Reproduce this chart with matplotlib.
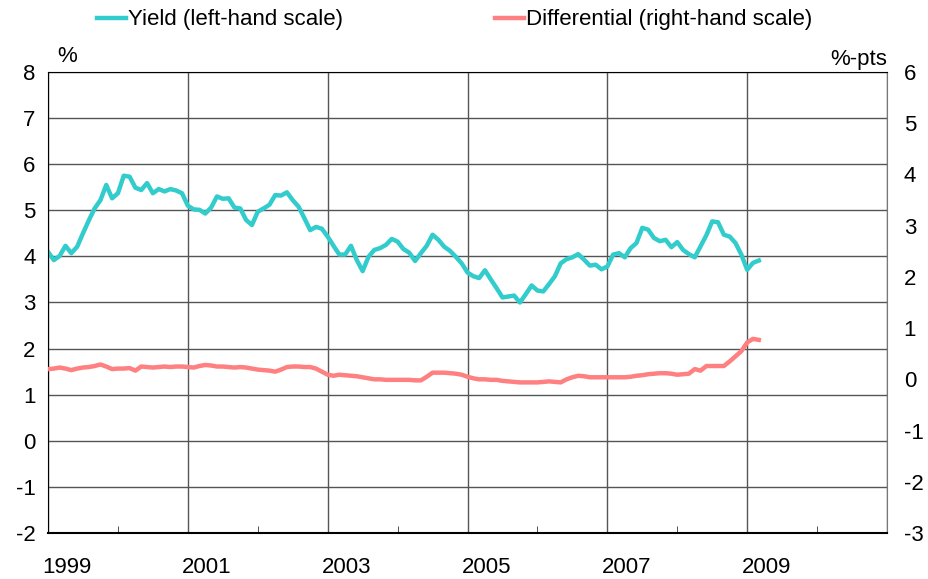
#Importing numpy, pandas and pyplot
import numpy as np
import pandas as pd
import matplotlib.pyplot as plt
import matplotlib.transforms as mtransforms

plt.rcParams['font.family'] = ['Liberation Sans', 'DejaVu Sans']
plt.rcParams['axes.unicode_minus'] = False

#Monthly dates, Jan 1999 - Mar 2009
dates = pd.date_range('1999-01-01', periods=123, freq='MS')

#Yield, % (left-hand scale)
yld = [4.10, 3.92, 4.01, 4.23, 4.07, 4.21, 4.50, 4.78, 5.04, 5.22,
       5.55, 5.26, 5.37, 5.75, 5.73, 5.49, 5.44, 5.59, 5.37, 5.46,
       5.41, 5.46, 5.43, 5.37, 5.10, 5.02, 5.01, 4.93, 5.06, 5.30,
       5.25, 5.26, 5.06, 5.04, 4.79, 4.68, 4.97, 5.04, 5.12, 5.33,
       5.32, 5.39, 5.22, 5.08, 4.83, 4.57, 4.64, 4.60, 4.43, 4.23,
       4.04, 4.04, 4.23, 3.92, 3.68, 3.99, 4.14, 4.18, 4.25, 4.38,
       4.32, 4.16, 4.08, 3.90, 4.07, 4.23, 4.47, 4.36, 4.21, 4.12,
       3.99, 3.85, 3.65, 3.57, 3.53, 3.70, 3.50, 3.31, 3.11, 3.13,
       3.15, 3.00, 3.18, 3.37, 3.26, 3.24, 3.40, 3.57, 3.85, 3.94,
       3.98, 4.05, 3.93, 3.80, 3.82, 3.72, 3.78, 4.04, 4.07, 3.98,
       4.18, 4.29, 4.62, 4.58, 4.40, 4.33, 4.36, 4.20, 4.31, 4.14,
       4.05, 3.98, 4.22, 4.46, 4.76, 4.74, 4.47, 4.43, 4.29, 4.04,
       3.71, 3.86, 3.91]

#Differential, %-pts (right-hand scale)
diff = [0.20, 0.21, 0.23, 0.21, 0.18, 0.21, 0.23, 0.24, 0.26, 0.29,
        0.25, 0.20, 0.21, 0.21, 0.22, 0.17, 0.25, 0.24, 0.23, 0.24,
        0.25, 0.24, 0.25, 0.25, 0.24, 0.23, 0.26, 0.28, 0.27, 0.25,
        0.25, 0.24, 0.23, 0.24, 0.23, 0.21, 0.19, 0.18, 0.17, 0.15,
        0.19, 0.24, 0.25, 0.25, 0.24, 0.24, 0.21, 0.15, 0.09, 0.07,
        0.09, 0.08, 0.07, 0.06, 0.04, 0.02, 0.00, 0.00, -0.01, -0.01,
        -0.01, -0.01, -0.01, -0.02, -0.02, 0.05, 0.13, 0.13, 0.13, 0.12,
        0.11, 0.09, 0.05, 0.02, 0.00, 0.00, -0.01, -0.01, -0.03, -0.04,
        -0.05, -0.06, -0.06, -0.06, -0.06, -0.05, -0.04, -0.05, -0.06, 0.00,
        0.04, 0.07, 0.06, 0.04, 0.04, 0.04, 0.04, 0.04, 0.04, 0.04,
        0.05, 0.07, 0.08, 0.10, 0.11, 0.12, 0.12, 0.11, 0.09, 0.10,
        0.11, 0.20, 0.17, 0.26, 0.26, 0.26, 0.26, 0.35, 0.45, 0.55,
        0.72, 0.79, 0.77]

#Axis ticks
years = [1999, 2001, 2003, 2005, 2007, 2009]
left_ticks = list(range(-2, 9))
right_ticks = list(range(-3, 7))

teal = '#33CCCC'
salmon = '#FF8080'
fs = 16

fig = plt.figure(figsize=(9.29, 5.79), dpi=100)
ax = fig.add_axes([48/929, 1-533/579, (887-48)/929, (533-72)/579])
ax2 = ax.twinx()

#decimal years for x positions
t = dates.year + (dates.month - 1) / 12.0

l1, = ax.plot(t, yld, color=teal, lw=3.2, solid_joinstyle='round')
l2, = ax2.plot(t, diff, color=salmon, lw=3.2, solid_joinstyle='round')

ax.set_xlim(1999, 2011)
ax.set_ylim(-2, 8)
ax2.set_ylim(-3, 6)

ax.set_yticks(left_ticks)
ax2.set_yticks(right_ticks)
ax.set_xticks(years + [2011])
ax.set_xticklabels([str(y) for y in years] + [''])
ax.set_xticks(np.arange(2000, 2011, 2), minor=True)

#Grid
ax.grid(True, which='major', color='#555555', lw=1)
ax.set_axisbelow(True)

ax.tick_params(axis='y', length=0, pad=9, labelsize=fs)
ax2.tick_params(axis='y', length=0, pad=12, labelsize=fs)
ax.tick_params(axis='x', which='major', length=0, pad=17.5, labelsize=fs)
ax.tick_params(axis='x', which='minor', direction='in', length=5, color='#333333')

#shift year labels a bit to the right
off = mtransforms.ScaledTranslation(19/100, 0, fig.dpi_scale_trans)
for lab in ax.get_xticklabels():
    lab.set_transform(lab.get_transform() + off)

for sp in ax.spines.values():
    sp.set_color('black')
ax.spines['bottom'].set_linewidth(1.5)
for sp in ax2.spines.values():
    sp.set_visible(False)
ax.spines['right'].set_color('#777777')

#Unit labels
fig.text(57/929, 1-57/579, '%', fontsize=fs, va='center', ha='left')
fig.text(887/929, 1-60/579, '%-pts', fontsize=fs, va='center', ha='right')

#Legend
fig.legend([l1, l2], ['Yield (left-hand scale)', 'Differential (right-hand scale)'],
           loc='center left', bbox_to_anchor=(97/929, 1-20/579), ncol=2,
           frameon=False, fontsize=fs, handlelength=1.3, handletextpad=0.1,
           columnspacing=6.85, borderaxespad=0, borderpad=0)

plt.savefig('out.png', dpi=100)
